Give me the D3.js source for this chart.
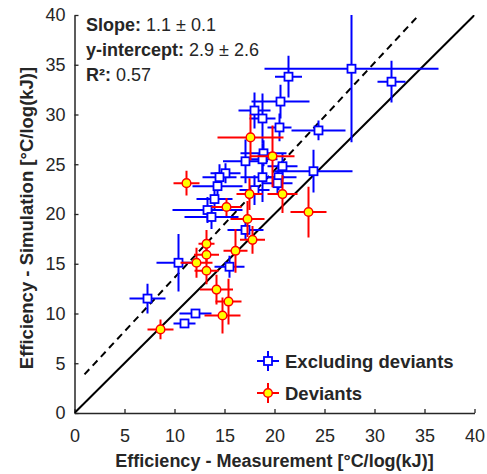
<!DOCTYPE html>
<html>
<head>
<meta charset="utf-8">
<script src="https://cdn.jsdelivr.net/npm/d3@7"></script>
<style>
  html, body { margin: 0; padding: 0; background: #fff; }
  svg { display: block; }
  text { font-family: Arial, "Liberation Sans", Helvetica, sans-serif; fill: #262626; }
</style>
</head>
<body>
<svg id="chart" width="487" height="474"></svg>
<script>
// ---- data ----
const xTicks = [0, 5, 10, 15, 20, 25, 30, 35, 40];
const yTicks = [0, 5, 10, 15, 20, 25, 30, 35, 40];

// Excluding deviants (blue squares)
const blueX    = [27.7, 31.7, 21.4, 20.6, 20.5, 24.4, 23.9, 18.0, 18.8, 18.9, 18.8, 17.1, 20.8, 20.4, 20.3, 18.8, 15.1, 14.5, 14.3, 18.0, 14.0, 13.3, 13.7, 17.1, 10.4, 15.5, 7.3, 12.1, 11.0];
const blueY    = [34.6, 33.3, 33.8, 31.3, 28.7, 28.4, 24.3, 30.4, 29.6, 26.1, 25.5, 25.3, 24.8, 23.7, 23.1, 23.7, 24.1, 23.7, 22.8, 22.4, 21.5, 20.4, 19.7, 18.4, 15.1, 14.7, 11.5, 10.0, 9.0];
const blueXErr = [8.7, 1.4, 1.35, 2.9, 1.2, 2.7, 3.9, 1.6, 1.3, 2.3, 1.5, 2.25, 1.5, 1.8, 1.5, 2.2, 1.5, 1.7, 2.5, 1.5, 1.8, 3.5, 2.7, 1.8, 2.2, 1.5, 1.8, 1.6, 1.1];
const blueYErr = [7.4, 2.1, 2.1, 1.7, 1.4, 1.0, 2.15, 1.8, 2.5, 1.3, 1.6, 2.2, 1.3, 1.3, 1.2, 2.5, 1.0, 1.3, 1.3, 1.5, 1.2, 1.3, 1.2, 1.0, 2.9, 1.1, 1.5, 0.3, 0.3];

// Deviants (red / yellow circles)
const redX    = [19.8, 11.2, 17.5, 20.8, 15.2, 23.4, 17.3, 17.8, 16.1, 13.2, 13.2, 12.2, 13.2, 14.2, 15.4, 14.8, 8.6, 17.6];
const redY    = [25.8, 23.1, 22.0, 22.0, 20.7, 20.2, 19.5, 17.4, 16.3, 17.0, 15.9, 15.1, 14.3, 12.4, 11.2, 9.8, 8.4, 27.7];
const redXErr = [2.2, 1.3, 1.3, 1.5, 1.5, 1.8, 1.7, 1.25, 1.2, 0.8, 1.25, 1.6, 1.2, 1.65, 1.3, 1.8, 1.3, 3.3];
const redYErr = [3.1, 1.25, 1.6, 1.9, 0.9, 2.55, 1.8, 1.4, 2.2, 1.4, 0.8, 1.5, 1.35, 1.5, 2.3, 1.8, 1.0, 2.3];

// fit line and identity line
const fitSlope = 1.08, fitIntercept = 2.8, fitXRange = [1, 34.2];
const identityRange = [0, 40];

const statLabels = ["Slope:", "y-intercept:", "R²:"];
const statValues = [" 1.1 ± 0.1", " 2.9 ± 2.6", " 0.57"];
const seriesNames = ["Excluding deviants", "Deviants"];

// ---- layout ----
const svg = d3.select("#chart");
const x = d3.scaleLinear().domain([0, 40]).range([74.5, 474.5]);
const y = d3.scaleLinear().domain([0, 40]).range([413, 15]);
const ink = "#262626";

svg.append("defs").append("clipPath").attr("id", "plotclip")
  .append("rect").attr("x", x(0)).attr("y", y(40))
  .attr("width", x(40) - x(0)).attr("height", y(0) - y(40));

// axes
const xAxis = svg.append("g").attr("transform", `translate(0,${y(0)})`)
  .call(d3.axisBottom(x).tickValues(xTicks).tickSizeInner(-4).tickSizeOuter(0).tickPadding(16));
const yAxis = svg.append("g").attr("transform", `translate(${x(0)},0)`)
  .call(d3.axisLeft(y).tickValues(yTicks).tickSizeInner(-4).tickSizeOuter(0).tickPadding(9));
[xAxis, yAxis].forEach(g => {
  g.selectAll("path.domain").attr("stroke", ink).attr("stroke-width", 1.5);
  g.selectAll(".tick line").attr("stroke", ink).attr("stroke-width", 1.3);
  g.selectAll(".tick text").attr("fill", ink).style("font-size", "18px")
    .style("font-family", "Arial, 'Liberation Sans', Helvetica, sans-serif");
});

// axis titles
svg.append("text").attr("x", (x(0) + x(40)) / 2).attr("y", 467)
  .attr("text-anchor", "middle").style("font-size", "18px").style("font-weight", "bold")
  .text("Efficiency - Measurement [°C/log(kJ)]");
svg.append("text").attr("transform", `translate(33,218) rotate(-90)`)
  .attr("text-anchor", "middle").style("font-size", "18.5px").style("font-weight", "bold")
  .text("Efficiency - Simulation [°C/log(kJ)]");

const plot = svg.append("g").attr("clip-path", "url(#plotclip)");

// identity line
plot.append("line")
  .attr("x1", x(identityRange[0])).attr("y1", y(identityRange[0]))
  .attr("x2", x(identityRange[1])).attr("y2", y(identityRange[1]))
  .attr("stroke", "#000").attr("stroke-width", 2);
// fit line
plot.append("line")
  .attr("x1", x(fitXRange[0])).attr("y1", y(fitSlope * fitXRange[0] + fitIntercept))
  .attr("x2", x(fitXRange[1])).attr("y2", y(fitSlope * fitXRange[1] + fitIntercept))
  .attr("stroke", "#000").attr("stroke-width", 2).attr("stroke-dasharray", "7,5");

function drawSeries(xs, ys, xe, ye, color, marker) {
  const data = xs.map((d, i) => ({ x: d, y: ys[i], xe: xe[i], ye: ye[i] }));
  const g = plot.append("g");
  g.selectAll("line.h").data(data).join("line")
    .attr("x1", d => x(d.x - d.xe)).attr("x2", d => x(d.x + d.xe))
    .attr("y1", d => y(d.y)).attr("y2", d => y(d.y))
    .attr("stroke", color).attr("stroke-width", 2);
  g.selectAll("line.v").data(data).join("line")
    .attr("x1", d => x(d.x)).attr("x2", d => x(d.x))
    .attr("y1", d => y(d.y - d.ye)).attr("y2", d => y(d.y + d.ye))
    .attr("stroke", color).attr("stroke-width", 2);
  if (marker === "square") {
    g.selectAll("rect").data(data).join("rect")
      .attr("x", d => x(d.x) - 4).attr("y", d => y(d.y) - 4)
      .attr("width", 8).attr("height", 8)
      .attr("fill", "#fff").attr("stroke", color).attr("stroke-width", 1.8);
  } else {
    g.selectAll("circle").data(data).join("circle")
      .attr("cx", d => x(d.x)).attr("cy", d => y(d.y)).attr("r", 4.3)
      .attr("fill", "#ffff00").attr("stroke", color).attr("stroke-width", 1.5);
  }
}
drawSeries(blueX, blueY, blueXErr, blueYErr, "#0000ff", "square");
drawSeries(redX, redY, redXErr, redYErr, "#ff0000", "circle");

// stats text
const stats = svg.append("g");
statLabels.forEach((lab, i) => {
  const t = stats.append("text").attr("x", 86).attr("y", 31 + i * 25).style("font-size", "18px");
  t.append("tspan").style("font-weight", "bold").text(lab);
  t.append("tspan").text(statValues[i]);
});

// legend
const legend = svg.append("g");
const legendColors = ["#0000ff", "#ff0000"];
seriesNames.forEach((name, i) => {
  const cy = 361 + i * 32, cx = 268;
  const c = legendColors[i];
  legend.append("line").attr("x1", cx - 11).attr("x2", cx + 11).attr("y1", cy).attr("y2", cy)
    .attr("stroke", c).attr("stroke-width", 2);
  legend.append("line").attr("x1", cx).attr("x2", cx).attr("y1", cy - 10).attr("y2", cy + 10)
    .attr("stroke", c).attr("stroke-width", 2);
  if (i === 0) {
    legend.append("rect").attr("x", cx - 4).attr("y", cy - 4).attr("width", 8).attr("height", 8)
      .attr("fill", "#fff").attr("stroke", c).attr("stroke-width", 1.8);
  } else {
    legend.append("circle").attr("cx", cx).attr("cy", cy).attr("r", 4.3)
      .attr("fill", "#ffff00").attr("stroke", c).attr("stroke-width", 1.5);
  }
  legend.append("text").attr("x", 285).attr("y", cy + 6.5)
    .style("font-size", "18.5px").style("font-weight", "bold").text(name);
});
</script>
</body>
</html>
